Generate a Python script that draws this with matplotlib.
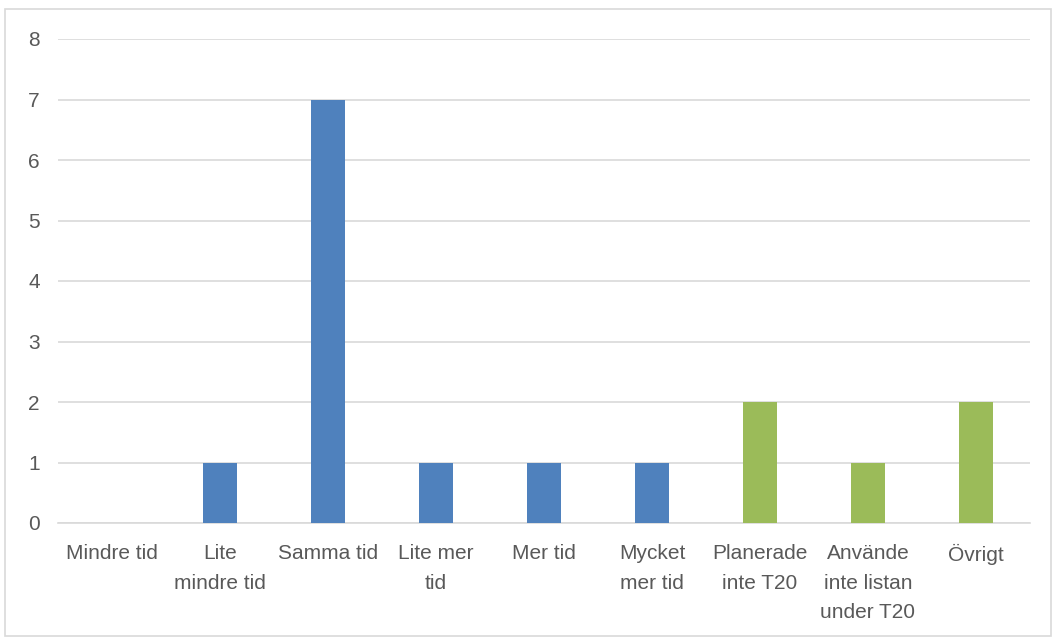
import matplotlib
matplotlib.use('Agg')
import matplotlib.pyplot as plt
from matplotlib.patches import Rectangle

# Data
categories = ['Mindre tid', 'Lite\nmindre tid', 'Samma tid', 'Lite mer\ntid', 'Mer tid',
              'Mycket\nmer tid', 'Planerade\ninte T20', 'Använde\ninte listan\nunder T20', 'Övrigt']
values = [0, 1, 7, 1, 1, 1, 2, 1, 2]
groups = ['a', 'a', 'a', 'a', 'a', 'a', 'b', 'b', 'b']
yticks = [0, 1, 2, 3, 4, 5, 6, 7, 8]

colors = {'a': '#4F81BD', 'b': '#9BBB59'}
textcol = '#595959'

plt.rcParams['font.family'] = ['Liberation Sans', 'DejaVu Sans']

fig = plt.figure(figsize=(10.57, 6.37), dpi=100)
ax = fig.add_axes([58/1057, 1-523/637, (1030-58)/1057, (523-39)/637])

x = list(range(len(categories)))
ax.bar(x, values, width=0.31, color=[colors[g] for g in groups], zorder=3)

ax.set_xlim(-0.5, len(categories)-0.5)
ax.set_ylim(0, 8)
ax.set_yticks(yticks)
ax.set_xticks(x)
ax.set_xticklabels(categories, fontsize=15, color=textcol, linespacing=1.72, va='top')
ax.tick_params(axis='y', length=0, labelsize=15, labelcolor=textcol, pad=13)
ax.tick_params(axis='x', length=0, pad=15)

ax.grid(axis='y', color='#D9D9D9', linewidth=1.2, zorder=0)
for s in ['top', 'right', 'left']:
    ax.spines[s].set_visible(False)
ax.spines['bottom'].set_color('#D9D9D9')
ax.spines['bottom'].set_linewidth(1.2)

# outer chart border
fig.patches.append(Rectangle((5/1057, 1/637), 1046/1057, 627/637, transform=fig.transFigure,
                             fill=False, edgecolor='#D9D9D9', linewidth=1.2))

fig.savefig('out.png', dpi=100)
